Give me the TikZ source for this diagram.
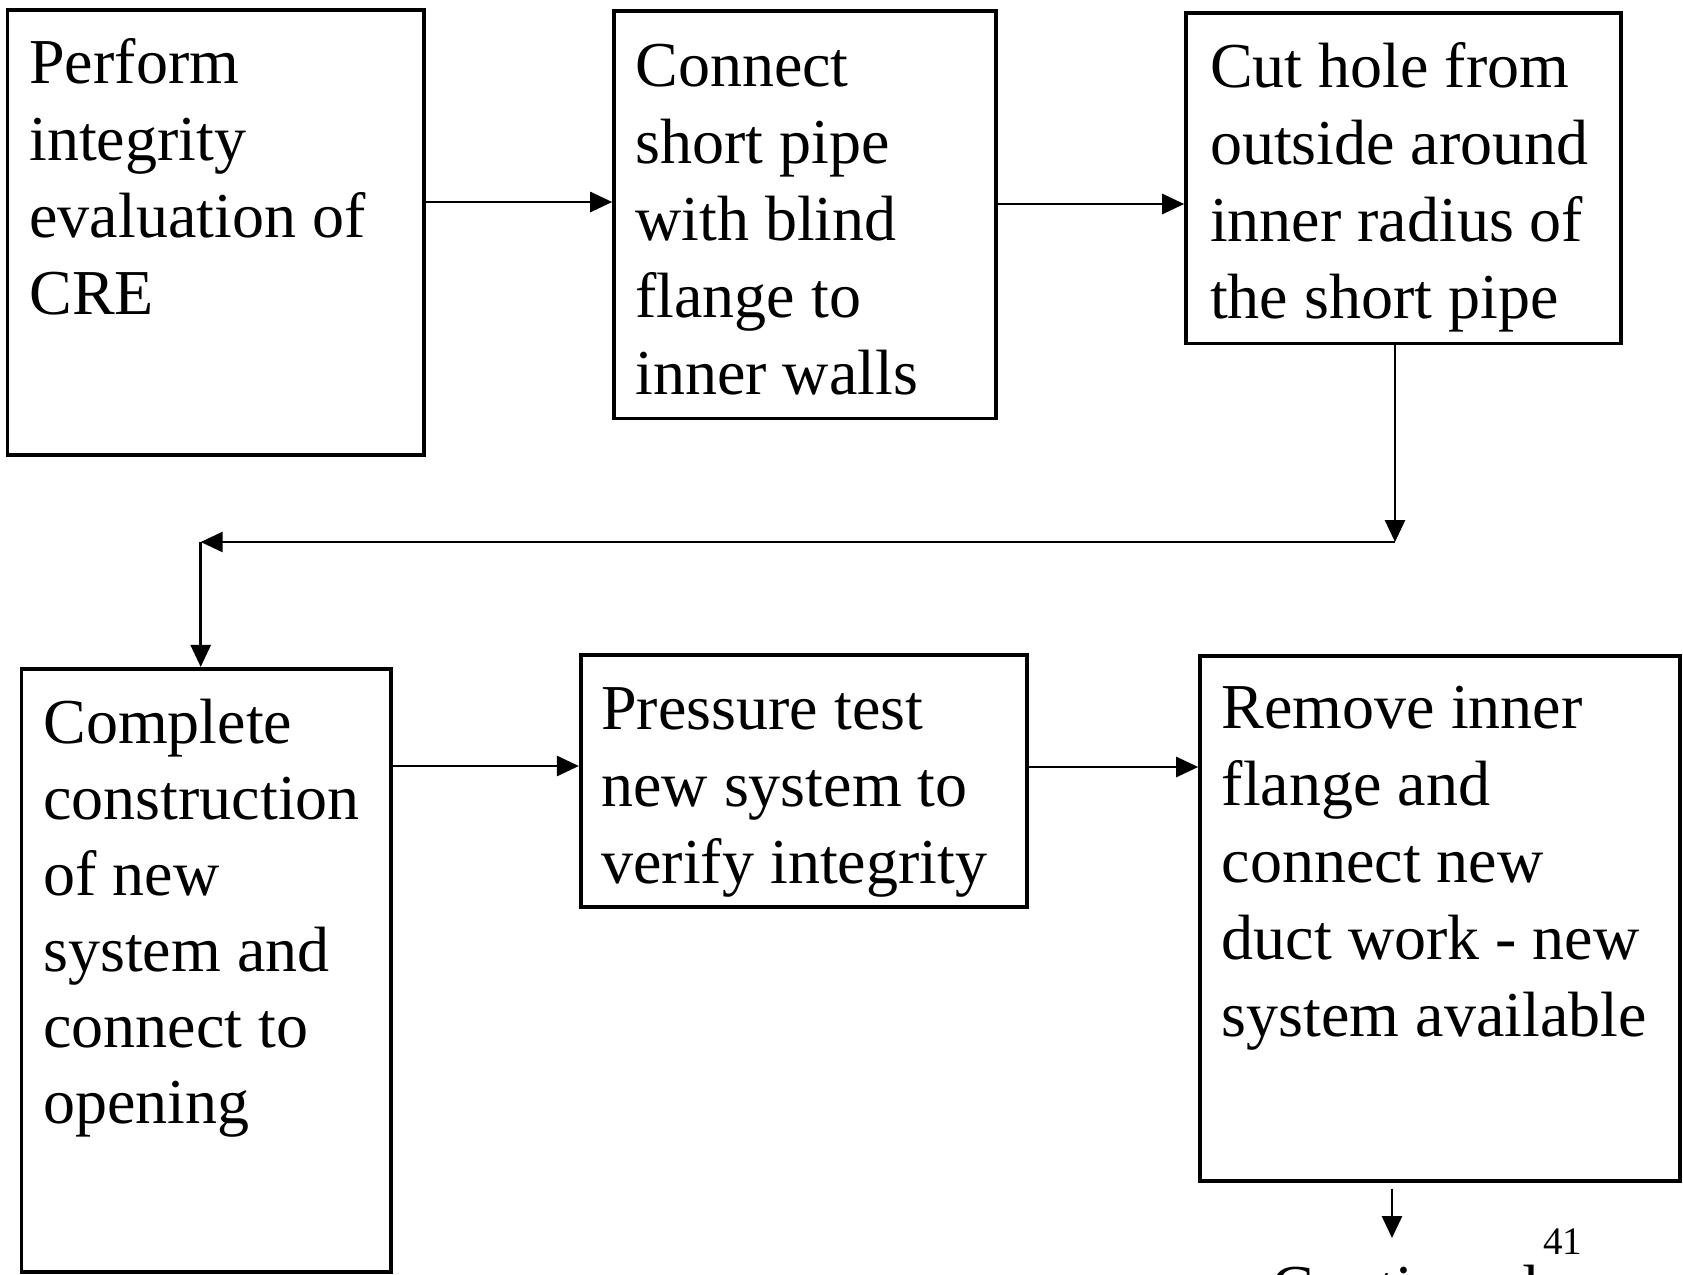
\documentclass[tikz,border=0pt]{standalone}
\usepackage{fontspec}
\setmainfont{Liberation Serif}
\usetikzlibrary{arrows.meta,fit}
\begin{document}
\begin{tikzpicture}[x=0.5pt,y=-0.5pt,
  box/.style={draw, line width=1.8pt, inner sep=0pt},
  txt/.style={anchor=base west, inner sep=0pt, align=left, font=\fontsize{32}{38.4}\selectfont},
  arr/.style={-{Triangle[length=11pt,width=10pt]}, line width=1.4pt}]
\useasboundingbox (0,0) rectangle (1683,1275);
% boxes
\node[box, fit={(7.5,9.7) (424,455)}] (b1) {};
\node[box, fit={(614,10.7) (996,418.6)}] (b2) {};
\node[box, fit={(1186,12.9) (1621,343.5)}] (b3) {};
\node[box, fit={(21.5,668.7) (390.7,1272)}] (b4) {};
\node[box, fit={(580.7,654.7) (1027,907)}] (b5) {};
\node[box, fit={(1200,655.8) (1680,1180.7)}] (b6) {};
% texts (anchored at the baseline of their last line)
\node[txt] (t1) at (29,314) {Perform\\integrity\\evaluation of\\CRE};
\node[txt] (t2) at (635,394) {Connect\\short pipe\\with blind\\flange to\\inner walls};
\node[txt] (t3) at (1209.6,318) {Cut hole from\\outside around\\inner radius of\\the short pipe};
\node[txt, font=\fontsize{32}{38}\selectfont] (t4) at (43,1123) {Complete\\construction\\of new\\system and\\connect to\\opening};
\node[txt] (t5) at (601,883) {Pressure test\\new system to\\verify integrity};
\node[txt] (t6) at (1221.4,1036) {Remove inner\\flange and\\connect new\\duct work - new\\system available};
\node[txt] (t7) at (1271,1309) {Continued};
\node[anchor=base west, inner sep=0pt, font=\fontsize{19.5}{23}\selectfont] (pg) at (1543,1254) {41};
% connectors
\coordinate (y12) at (0,202);
\coordinate (y23) at (0,204);
\coordinate (c1) at (1395,542);
\coordinate (c2) at (200.7,542);
\coordinate (y45) at (0,766);
\coordinate (y56) at (0,767);
\coordinate (c6) at (1392,1238);
\draw[arr] (b1.east |- y12) -- (b2.west |- y12);
\draw[arr] (b2.east |- y23) -- (b3.west |- y23);
\draw[arr] (b3.south -| c1) -- (c1);
\draw[arr] (c1) -- (c2);
\draw[arr] (c2) -- (b4.north -| c2);
\draw[arr] (b4.east |- y45) -- (b5.west |- y45);
\draw[arr] (b5.east |- y56) -- (b6.west |- y56);
\draw[arr, shorten <=3pt] (b6.south -| c6) -- (c6);
\end{tikzpicture}
\end{document}
